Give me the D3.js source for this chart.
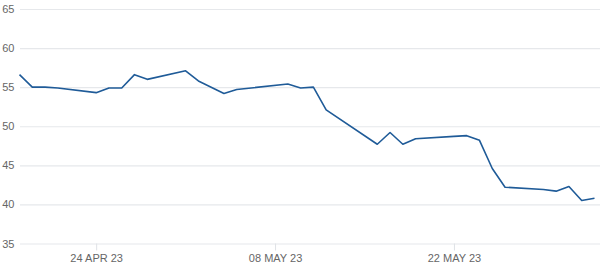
<!DOCTYPE html>
<html><head><meta charset="utf-8">
<script src="https://cdn.jsdelivr.net/npm/d3@7/dist/d3.min.js"></script>
<style>body{margin:0;background:#fff}svg{display:block}text{font-family:"Liberation Sans",Arial,sans-serif}</style>
</head><body><svg id="c" width="600" height="270"></svg>
<script>
const dates = ["2023-04-18","2023-04-19","2023-04-20","2023-04-21","2023-04-24","2023-04-25","2023-04-26","2023-04-27","2023-04-28",
"2023-05-01","2023-05-02","2023-05-04","2023-05-05","2023-05-09","2023-05-10","2023-05-11","2023-05-12","2023-05-16","2023-05-17",
"2023-05-18","2023-05-19","2023-05-22","2023-05-23","2023-05-24","2023-05-25","2023-05-26","2023-05-29","2023-05-30","2023-05-31",
"2023-06-01","2023-06-02"];
const values = [56.6,55.0,55.0,54.9,54.3,54.9,54.9,56.6,56.0,
57.1,55.8,54.2,54.7,55.4,54.9,55.0,52.1,47.7,49.2,
47.7,48.4,48.7,48.8,48.2,44.6,42.2,41.9,41.7,42.3,
40.5,40.8];
const yTicks = [35,40,45,50,55,60,65];
const xTicks = ["2023-04-24","2023-05-08","2023-05-22"];
const xTickLabels = ["24 APR 23","08 MAY 23","22 MAY 23"];

const parse = d3.utcParse("%Y-%m-%d");
const data = dates.map((d,i)=>({d:parse(d), v:values[i]}));
const svg = d3.select("#c");
const x = d3.scaleUtc().domain([parse("2023-04-18"), parse("2023-06-02")]).range([19.5, 594.5]);
const y = d3.scaleLinear().domain([35,65]).range([243.5, 9]);

// grid
const yAxis = d3.axisLeft(y).tickValues(yTicks).tickSize(-580).tickPadding(5);
const gy = svg.append("g").attr("transform","translate(20,0)").call(yAxis);
gy.select(".domain").remove();
gy.selectAll(".tick line").attr("stroke","#e6e8eb").attr("stroke-width",1.2);
gy.selectAll(".tick text").attr("x",-5.5).attr("fill","#666").attr("font-size","11px").attr("text-anchor","end");

const xAxis = d3.axisBottom(x).tickValues(xTicks.map(parse)).tickSize(7).tickPadding(4)
  .tickFormat((d,i)=>xTickLabels[i]);
const gx = svg.append("g").attr("transform","translate(0,243.5)").call(xAxis);
gx.select(".domain").remove();
gx.selectAll(".tick line").attr("stroke","#dfe2e6");
gx.selectAll(".tick text").attr("fill","#666").attr("font-size","11px");

svg.append("path").datum(data)
  .attr("fill","none").attr("stroke","#1f5b98").attr("stroke-width",1.6).attr("stroke-linejoin","round")
  .attr("d", d3.line().x(d=>x(d.d)).y(d=>y(d.v)));
</script></body></html>
